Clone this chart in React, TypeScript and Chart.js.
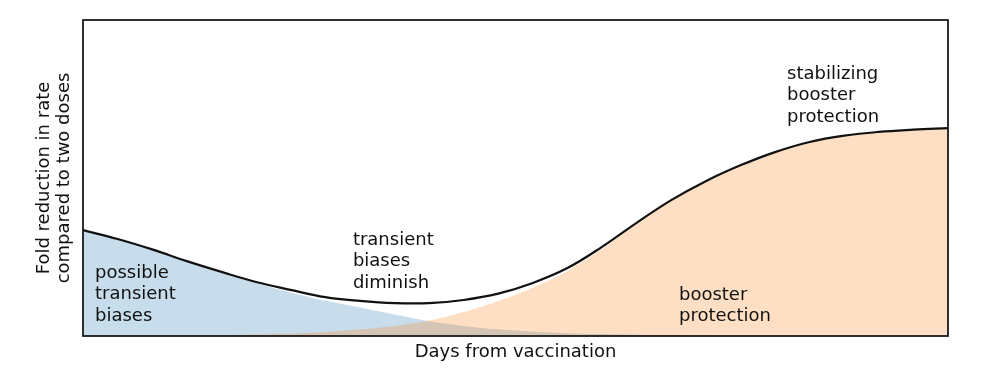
import React, { useEffect, useRef } from "react";
import { Chart, registerables } from "chart.js";

Chart.register(...registerables);

// Days from vaccination (arbitrary 0..100 scale)
const days = [0, 4, 8, 12, 16, 20, 24, 28, 32, 36, 40, 44, 48, 52, 56, 60, 64, 68, 72, 76, 80, 84, 88, 92, 96, 100];

// Total fold reduction (black line)
const totalEffect = [3.35, 3.07, 2.74, 2.37, 2.03, 1.71, 1.46, 1.23, 1.11, 1.04, 1.04, 1.14, 1.34, 1.68, 2.15, 2.82, 3.58, 4.3, 4.9, 5.4, 5.82, 6.14, 6.34, 6.46, 6.53, 6.58];

// Possible transient biases (blue area)
const transientBiases = [3.35, 3.07, 2.74, 2.36, 1.99, 1.68, 1.38, 1.12, 0.9, 0.68, 0.47, 0.32, 0.21, 0.14, 0.09, 0.06, 0.04, 0.02, 0.01, 0, 0, 0, 0, 0, 0, 0];

// Booster protection (orange area)
const boosterProtection = [0, 0, 0.01, 0.02, 0.03, 0.05, 0.08, 0.13, 0.21, 0.32, 0.49, 0.76, 1.11, 1.53, 2.06, 2.76, 3.54, 4.28, 4.89, 5.4, 5.82, 6.14, 6.34, 6.46, 6.53, 6.58];

const yMax = 10;

const annotationLines = [
  ["possible", "transient", "biases"],
  ["transient", "biases", "diminish"],
  ["stabilizing", "booster", "protection"],
  ["booster", "protection"],
];
const annotationX = [1.39, 31.2, 81.4, 68.9];
const annotationY = [1.835, 2.88, 8.13, 1.14];

const FONT = "'DejaVu Sans', Verdana, sans-serif";

const toPoints = (vals: number[]) => days.map((d, i) => ({ x: d, y: vals[i] }));

export default function App() {
  const ref = useRef<HTMLCanvasElement | null>(null);

  useEffect(() => {
    document.body.style.margin = "0";
    const canvas = ref.current;
    if (!canvas) return;

    const framePlugin = {
      id: "frameAndText",
      afterDatasetsDraw(chart: any) {
        const { ctx, chartArea, scales } = chart;
        ctx.save();
        ctx.font = `18px ${FONT}`;
        ctx.fillStyle = "#111";
        ctx.textAlign = "left";
        ctx.textBaseline = "alphabetic";
        annotationLines.forEach((lines, k) => {
          const px = scales.x.getPixelForValue(annotationX[k]);
          const py = scales.y.getPixelForValue(annotationY[k]);
          lines.forEach((t, j) => ctx.fillText(t, px, py + j * 21.3));
        });
        ctx.strokeStyle = "#1a1a1a";
        ctx.lineWidth = 1.8;
        ctx.strokeRect(chartArea.left, chartArea.top, chartArea.right - chartArea.left, chartArea.bottom - chartArea.top);
        ctx.restore();
      },
    };

    const chart = new Chart(canvas, {
      type: "line",
      data: {
        datasets: [
          {
            label: "total",
            data: toPoints(totalEffect),
            borderColor: "#111",
            borderWidth: 2.2,
            pointRadius: 0,
            fill: false,
            tension: 0.4,
          },
          {
            label: "booster protection",
            data: toPoints(boosterProtection),
            borderWidth: 0,
            borderColor: "rgba(0,0,0,0)",
            backgroundColor: "rgba(255,127,14,0.25)",
            pointRadius: 0,
            fill: "origin",
            tension: 0.4,
          },
          {
            label: "transient biases",
            data: toPoints(transientBiases),
            borderWidth: 0,
            borderColor: "rgba(0,0,0,0)",
            backgroundColor: "rgba(31,119,180,0.25)",
            pointRadius: 0,
            fill: "origin",
            tension: 0.4,
          },
        ],
      },
      options: {
        responsive: false,
        animation: false,
        devicePixelRatio: 1,
        layout: { padding: { left: 30, top: 20, right: 49, bottom: 4 } },
        plugins: { legend: { display: false }, tooltip: { enabled: false } },
        scales: {
          x: {
            type: "linear",
            min: 0,
            max: 100,
            grid: { display: false, drawTicks: false, tickLength: 0 },
            ticks: { display: false },
            border: { display: false },
            title: {
              display: true,
              text: "Days from vaccination",
              color: "#111",
              font: { family: FONT, size: 18, lineHeight: 21 / 18 },
              padding: { top: 5.5, bottom: 9.5 },
            },
          },
          y: {
            min: 0,
            max: yMax,
            grid: { display: false, drawTicks: false, tickLength: 0 },
            ticks: { display: false },
            border: { display: false },
            title: {
              display: true,
              text: ["Fold reduction in rate", "compared to two doses"],
              color: "#111",
              font: { family: FONT, size: 18, lineHeight: 20 / 18 },
              padding: { top: 4, bottom: 9 },
            },
          },
        },
      },
      plugins: [framePlugin],
    });
    return () => chart.destroy();
  }, []);

  return <canvas ref={ref} width={997} height={376} style={{ display: "block" }} />;
}
